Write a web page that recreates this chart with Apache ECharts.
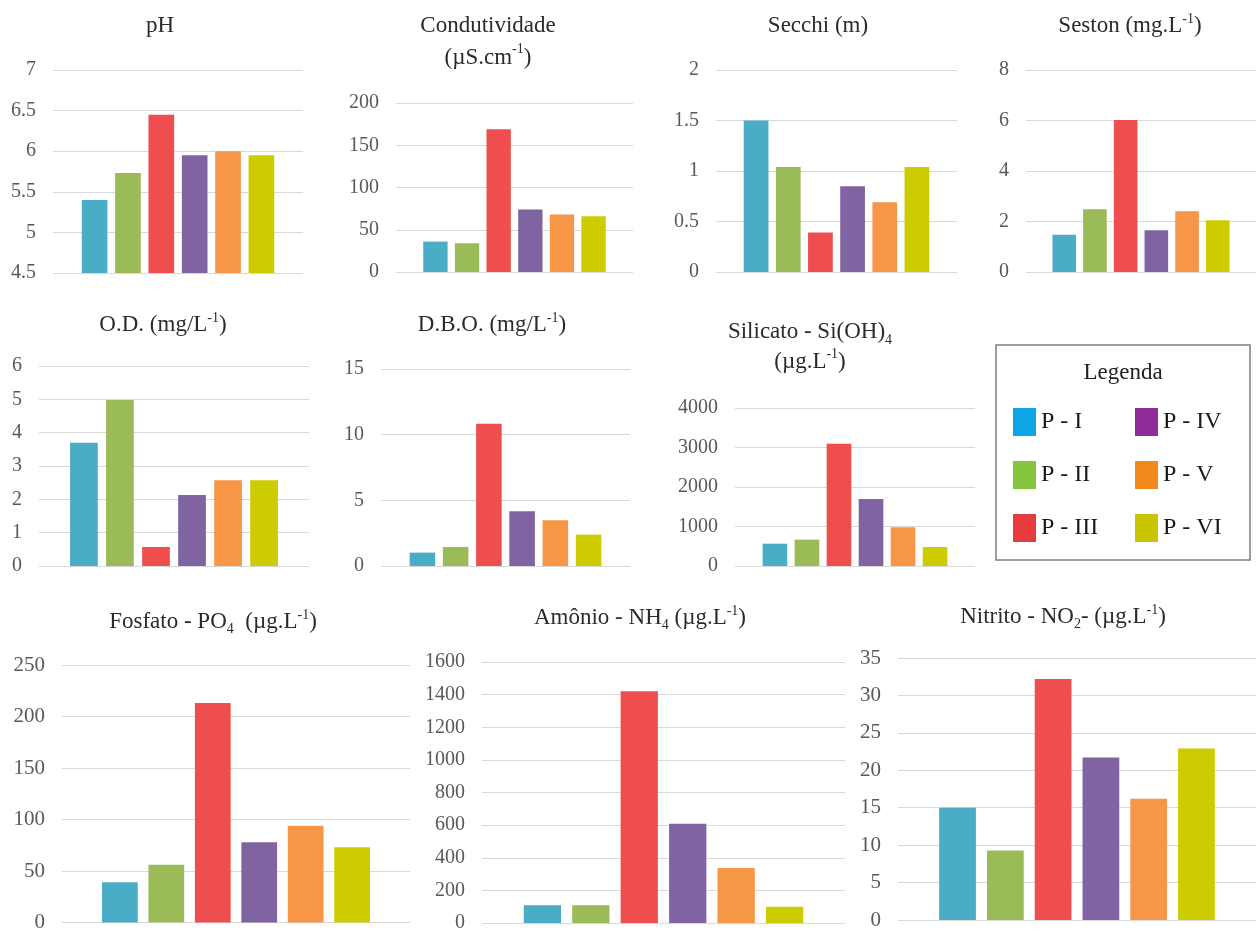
<!DOCTYPE html>
<html><head><meta charset="utf-8">
<script src="https://cdn.jsdelivr.net/npm/echarts@6/dist/echarts.min.js"></script>
<style>html,body{margin:0;padding:0;background:#fff}#c{width:1256px;height:933px}</style>
</head><body><div id="c"></div>
<script>
// ---- data ----
const sites = ['P - I', 'P - II', 'P - III', 'P - IV', 'P - V', 'P - VI'];
const ph = [5.40, 5.73, 6.45, 5.95, 6.00, 5.95];
const condutividade = [36, 34, 169, 74, 68, 66];
const secchi = [1.50, 1.04, 0.39, 0.85, 0.69, 1.04];
const seston = [1.48, 2.49, 6.02, 1.65, 2.41, 2.05];
const od = [3.70, 4.98, 0.57, 2.13, 2.57, 2.57];
const dbo = [1.02, 1.45, 10.83, 4.17, 3.48, 2.39];
const silicato = [565, 667, 3097, 1696, 979, 481];
const fosfato = [39, 56, 213, 78, 94, 73];
const amonio = [109, 109, 1420, 608, 337, 99];
const nitrito = [15.0, 9.3, 32.2, 21.7, 16.2, 22.9];
// axis ranges [min, max, interval]
const phAxis = [4.5, 7, 0.5];
const condAxis = [0, 200, 50];
const secchiAxis = [0, 2, 0.5];
const sestonAxis = [0, 8, 2];
const odAxis = [0, 6, 1];
const dboAxis = [0, 15, 5];
const silicatoAxis = [0, 4000, 1000];
const fosfatoAxis = [0, 250, 50];
const amonioAxis = [0, 1600, 200];
const nitritoAxis = [0, 35, 5];

// ---- styles ----
const FONT = "'Liberation Serif', 'Times New Roman', serif";
const barColors = ['#4bacc6', '#9bbb59', '#ef4e4e', '#8064a2', '#f79646', '#cccc00'];
const legendColors = ['#0ea5e6', '#86c540', '#e63c3c', '#8e2c9a', '#f2891f', '#c8c400'];
const TITLE_COLOR = '#2b2b2b';
const TICK_COLOR = '#595959';
const GRID_COLOR = '#d9d9d9';

// layout: grid [x0, y0, x1, y1], title center x, first line center y, line height, tick font size
const panels = [
  {v: ph, a: phAxis, t: 'pH', g: [53, 70, 303, 273], tx: 160, ty: 26, lh: 28, fs: 20},
  {v: condutividade, a: condAxis, t: 'Condutividade\n(µS.cm{sup|-1})', g: [396, 103, 633, 272], tx: 488, ty: 26, lh: 32, fs: 20},
  {v: secchi, a: secchiAxis, t: 'Secchi (m)', g: [716, 70, 957, 272], tx: 818, ty: 26, lh: 28, fs: 20},
  {v: seston, a: sestonAxis, t: 'Seston (mg.L{sup|-1})', g: [1026, 70, 1258, 272], tx: 1130, ty: 26, lh: 28, fs: 20},
  {v: od, a: odAxis, t: 'O.D. (mg/L{sup|-1})', g: [39, 366, 309, 566], tx: 163, ty: 325, lh: 28, fs: 20},
  {v: dbo, a: dboAxis, t: 'D.B.O. (mg/L{sup|-1})', g: [381, 369, 630, 566], tx: 492, ty: 325, lh: 28, fs: 20},
  {v: silicato, a: silicatoAxis, t: 'Silicato - Si(OH){sub|4}\n(µg.L{sup|-1})', g: [735, 408, 975, 566], tx: 810, ty: 332, lh: 30, fs: 20},
  {v: fosfato, a: fosfatoAxis, t: 'Fosfato - PO{sub|4}  (µg.L{sup|-1})', g: [62, 665, 410, 927], tx: 213, ty: 622, lh: 28, fs: 21},
  {v: amonio, a: amonioAxis, t: 'Amônio - NH{sub|4} (µg.L{sup|-1})', g: [482, 662, 845, 926], tx: 640, ty: 618, lh: 28, fs: 20},
  {v: nitrito, a: nitritoAxis, t: 'Nitrito - NO{sub|2}- (µg.L{sup|-1})', g: [898, 658, 1256, 920], tx: 1063, ty: 617, lh: 28, fs: 21}
];

const grids = [], xAxes = [], yAxes = [], series = [], titles = [];
panels.forEach((p, i) => {
  grids.push({left: p.g[0], top: p.g[1], width: p.g[2] - p.g[0], height: p.g[3] - p.g[1]});
  xAxes.push({type: 'category', gridIndex: i, data: [''], axisLine: {show: false}, axisTick: {show: false}, axisLabel: {show: false}});
  yAxes.push({
    type: 'value', gridIndex: i, min: p.a[0], max: p.a[1], interval: p.a[2],
    axisLine: {show: false}, axisTick: {show: false},
    splitLine: {lineStyle: {color: GRID_COLOR, width: 1}},
    axisLabel: {fontFamily: FONT, fontSize: p.fs, color: TICK_COLOR, margin: 17, formatter: v => String(v)}
  });
  sites.forEach((s, j) => {
    series.push({
      type: 'bar', name: s, xAxisIndex: i, yAxisIndex: i, data: [p.v[j]],
      itemStyle: {color: barColors[j]}, barGap: '30%', barCategoryGap: '23%',
      clip: true, silent: true, animation: false
    });
  });
  titles.push({
    text: p.t, left: p.tx, top: p.ty - p.lh / 2, textAlign: 'center', padding: 0,
    textStyle: {
      fontFamily: FONT, fontSize: 23, fontWeight: 'normal', color: TITLE_COLOR, lineHeight: p.lh,
      rich: {
        sup: {fontFamily: FONT, fontSize: 14, color: TITLE_COLOR, verticalAlign: 'top', lineHeight: 16},
        sub: {fontFamily: FONT, fontSize: 14, color: TITLE_COLOR, verticalAlign: 'bottom', lineHeight: 16}
      }
    }
  });
});
titles.push({
  text: 'Legenda', left: 1123, top: 359, textAlign: 'center', padding: 0,
  textStyle: {fontFamily: FONT, fontSize: 23, fontWeight: 'normal', color: '#222', lineHeight: 28}
});

function legendCol(names, left) {
  return {
    orient: 'vertical', left: left, top: 408, itemWidth: 23, itemHeight: 28, itemGap: 25,
    selectedMode: false, icon: 'rect', padding: 0,
    textStyle: {fontFamily: FONT, fontSize: 24, color: '#1a1a1a'},
    data: names.map(n => ({name: n, itemStyle: {color: legendColors[sites.indexOf(n)]}}))
  };
}

const chart = echarts.init(document.getElementById('c'), null, {renderer: 'canvas'});
chart.setOption({
  backgroundColor: '#ffffff',
  animation: false,
  title: titles,
  grid: grids,
  xAxis: xAxes,
  yAxis: yAxes,
  series: series,
  legend: [legendCol(sites.slice(0, 3), 1013), legendCol(sites.slice(3), 1135)],
  graphic: [{
    type: 'rect', shape: {x: 996, y: 345, width: 254, height: 215},
    style: {fill: 'none', stroke: '#7f7f7f', lineWidth: 1.5}, silent: true
  }]
});
</script></body></html>
